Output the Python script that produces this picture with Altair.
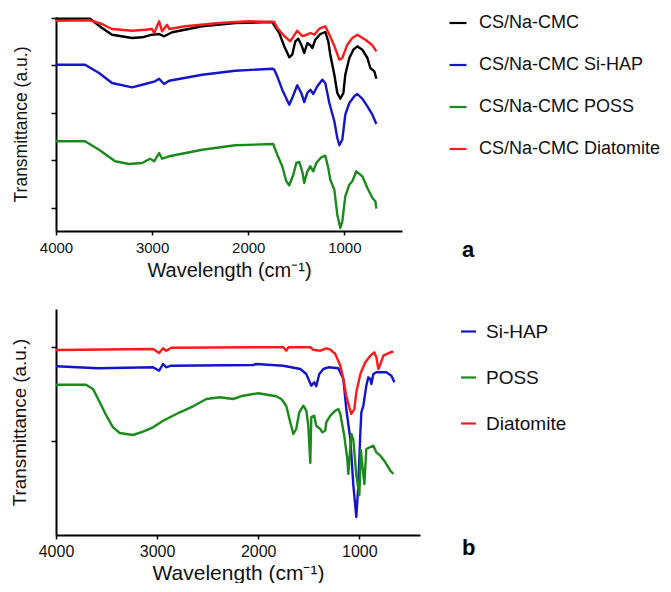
import altair as alt
import pandas as pd

# ---------------- Panel a (composite films) ----------------
a_labels = ["CS/Na-CMC", "\u2004CS/Na-CMC Si-HAP", "CS/Na-CMC POSS", "CS/Na-CMC Diatomite"]
a_colors = ["#000000", "#1414c8", "#1a8a1a", "#ff1a1a"]

a_cmc_wn = [4000, 3646, 3521, 3417, 3208, 3104, 3000, 2927, 2875, 2792, 2479, 2135, 1750, 1677, 1625,
            1573, 1542, 1510, 1479, 1448, 1417, 1385, 1354, 1333, 1302, 1250, 1198, 1167, 1146, 1104,
            1073, 1042, 1010, 990, 948, 906, 865, 813, 760, 729, 688, 667]
a_cmc_t = [212.3, 212.3, 203, 196.3, 193, 193.7, 196.3, 197, 194.7, 198.7, 204.7, 208, 209, 198, 184.7,
           173.7, 176.3, 189.7, 192.3, 186.3, 178, 188, 185.7, 183, 191.3, 197, 199, 189.7, 176.3, 156.3,
           138, 132.3, 138, 156.3, 173, 181.3, 184.7, 181.3, 173, 163, 159.7, 152.3]

a_sihap_wn = [4000, 3698, 3552, 3417, 3208, 3073, 2969, 2927, 2896, 2875, 2823, 2479, 2135, 1750, 1729,
              1698, 1646, 1573, 1542, 1490, 1448, 1417, 1385, 1354, 1323, 1281, 1229, 1198, 1156, 1104,
              1073, 1052, 1021, 990, 948, 896, 865, 813, 760, 708, 667]
a_sihap_t = [166.3, 166.3, 158, 148, 143.7, 147, 149.7, 152.3, 149, 147, 150.3, 156.3, 160.3, 162.3, 161.3,
             154.7, 141.3, 126.3, 133, 145.7, 138, 129, 138, 141.3, 137, 144.7, 151.3, 148, 128, 109.7,
             93, 85.7, 91.3, 116.3, 128, 134.7, 137, 132.3, 124.7, 116.3, 107]

a_poss_wn = [4000, 3698, 3552, 3385, 3240, 3104, 3021, 2979, 2927, 2896, 2823, 2479, 2135, 1740, 1698,
             1646, 1604, 1573, 1531, 1500, 1469, 1438, 1417, 1385, 1354, 1323, 1292, 1240, 1198, 1167,
             1146, 1104, 1073, 1042, 1021, 990, 948, 917, 875, 813, 760, 708, 677, 667]
a_poss_t = [89.7, 89.7, 81.3, 69.7, 67, 68, 72.3, 69.7, 78, 72.3, 74.7, 81.3, 85.7, 87, 76.3,
            64.7, 49.7, 45.7, 56.3, 68, 69, 59.7, 48, 59.7, 64.7, 59.7, 68, 73.7, 75.3, 63,
            51.3, 41.3, 16.3, 3, 9.7, 34.7, 46.3, 49.7, 59.7, 54.7, 43, 33, 29.7, 22.3]

a_diat_wn = [4000, 3646, 3521, 3417, 3208, 3073, 3000, 2979, 2927, 2896, 2844, 2823, 2656, 2302, 1990,
             1729, 1698, 1625, 1563, 1490, 1438, 1396, 1354, 1313, 1260, 1198, 1156, 1104, 1052, 1021,
             969, 917, 865, 781, 708, 667]
a_diat_t = [210.3, 210.7, 207, 202, 200.3, 201.3, 202, 198, 209.7, 199.7, 206.3, 202, 204.7, 208, 209.7,
            209, 203, 195, 189.7, 200.3, 195, 196, 198, 196.3, 202.3, 204.7, 196.3, 185, 171.3, 173,
            186.3, 193, 196.3, 191.3, 185.7, 179.7]

a_ticks = [23, 71, 118, 166, 213]

# ---------------- Panel b (fillers) ----------------
b_labels = ["Si-HAP", "POSS", "Diatomite"]
b_colors = ["#1414c8", "#1a8a1a", "#ff1a1a"]

b_sihap_wn = [4000, 3584, 3040, 2980, 2941, 2911, 2861, 2050, 2020, 1752, 1584, 1525, 1475, 1446, 1426,
              1396, 1356, 1307, 1208, 1158, 1129, 1089, 1059, 1030, 1010, 990, 980, 960, 931, 911,
              891, 881, 861, 832, 733, 683, 653]
b_sihap_t = [168.7, 166.7, 167.7, 164.3, 171, 167.7, 169.3, 170, 171, 169.3, 166, 161, 149.3, 152.7, 148.7,
             161, 166, 167.7, 166.7, 156, 126, 96, 49.3, 18, 49.3, 102.7, 122.7, 129.3, 149.3, 157.7,
             156, 151, 161, 162.7, 162.7, 159.3, 152.7]

b_poss_wn = [4000, 3703, 3634, 3567, 3502, 3436, 3369, 3238, 3139, 3040, 2941, 2775, 2644, 2512, 2379,
             2248, 2149, 2050, 2000, 1822, 1772, 1723, 1683, 1653, 1624, 1594, 1554, 1525, 1505, 1485,
             1475, 1446, 1426, 1386, 1366, 1337, 1327, 1287, 1238, 1208, 1188, 1149, 1119, 1109, 1079,
             1059, 1030, 1000, 985, 960, 950, 931, 891, 861, 832, 792, 743, 693, 663]
b_poss_t = [150.3, 150.3, 146, 132.7, 119.3, 107.7, 102, 100, 103.3, 107.7, 114.3, 122.7, 128.7, 136, 137.7,
            136, 139.3, 141, 141.7, 138.7, 136, 129.3, 112.7, 101, 106, 122.7, 129.3, 124.3, 110, 72,
            118, 119.3, 109.3, 106, 102.7, 104.3, 112.7, 119.3, 124.3, 126, 121, 99.3, 76, 61, 101,
            95, 60, 40, 85, 60, 51, 86, 88, 89.3, 82.7, 79.3, 72.7, 64.3, 61]

b_diat_wn = [4000, 3040, 2980, 2941, 2911, 2861, 2050, 1752, 1723, 1700, 1485, 1455, 1386, 1327, 1287,
             1238, 1188, 1158, 1129, 1099, 1079, 1049, 1030, 990, 941, 891, 852, 832, 812, 792,
             762, 693, 663]
b_diat_t = [185, 186, 182, 186.7, 184.3, 187.3, 187.7, 187.7, 184.3, 187.7, 187.7, 185.3, 184.3, 186.7, 185.3,
            181, 169.3, 156, 139.3, 127.7, 121, 126, 142.7, 161, 172.7, 179.3, 182.7, 177.7, 166, 171,
            179.3, 182.7, 183.3]

b_ticks = [94, 188]

x_ticks = [4000, 3000, 2000, 1000]
panel_tags = ["a", "b"]

FONT = "Liberation Sans"


def to_long(labels, series):
    rows = []
    for lab, (wn, t) in zip(labels, series):
        for i, (w, v) in enumerate(zip(wn, t)):
            rows.append({"series": lab, "wn": w, "t": v, "i": i})
    return pd.DataFrame(rows)


df_a = to_long(a_labels, [(a_cmc_wn, a_cmc_t), (a_sihap_wn, a_sihap_t),
                          (a_poss_wn, a_poss_t), (a_diat_wn, a_diat_t)])
df_b = to_long(b_labels, [(b_sihap_wn, b_sihap_t), (b_poss_wn, b_poss_t), (b_diat_wn, b_diat_t)])


def panel(df, labels, colors, ydomain, yticks, width, height, lab_fs, xt_fs, yt_fs,
          xlab_pad, xtitle_pad, ytitle_pad, leg, tag, tag_xy):
    x = alt.X("wn:Q",
              scale=alt.Scale(domain=[400, 4000], reverse=True, nice=False, zero=False),
              axis=alt.Axis(values=x_ticks, format="d", title="Wavelength (cm\u207b\u00b9)",
                            grid=False, tickSize=4, tickWidth=1.5, domainWidth=2,
                            domainColor="#000", tickColor="#000", labelFlush=False,
                            labelFontSize=lab_fs, labelFont=FONT, labelColor="#111",
                            labelPadding=xlab_pad,
                            titleFontSize=xt_fs, titleFont=FONT, titleFontWeight="normal",
                            titleColor="#111", titlePadding=xtitle_pad))
    y = alt.Y("t:Q",
              scale=alt.Scale(domain=ydomain, nice=False, zero=False),
              axis=alt.Axis(values=yticks, labels=False, title="Transmittance (a.u.)",
                            grid=False, tickSize=5, tickWidth=1.5, domainWidth=2,
                            domainColor="#000", tickColor="#000",
                            titleFontSize=yt_fs, titleFont=FONT, titleFontWeight="normal",
                            titleColor="#111", titlePadding=ytitle_pad))
    color = alt.Color("series:N",
                      scale=alt.Scale(domain=labels, range=colors),
                      legend=alt.Legend(title=None, orient="none",
                                        legendX=leg["x"], legendY=leg["y"],
                                        symbolType="stroke", symbolSize=leg["size"],
                                        symbolStrokeWidth=2.2,
                                        labelFontSize=leg["fs"], labelFont=FONT,
                                        labelColor="#111", labelLimit=400,
                                        labelOffset=leg["off"], rowPadding=leg["row"]))
    lines = alt.Chart(df).mark_line(strokeWidth=2.4, strokeJoin="round").encode(
        x=x, y=y, color=color, order=alt.Order("i:Q"))
    tag_chart = alt.Chart(pd.DataFrame({"tag": [tag]})).mark_text(
        font=FONT, fontSize=22, fontWeight="bold", align="left", baseline="alphabetic",
        color="#000").encode(text="tag:N", x=alt.value(tag_xy[0]), y=alt.value(tag_xy[1]))
    return alt.layer(lines, tag_chart).properties(width=width, height=height)


chart_a = panel(df_a, a_labels, a_colors, [0, 214], a_ticks, 346, 214,
                15, 20, 17.5, 5, 5, 19.5,
                {"x": 392, "y": -4, "size": 289, "fs": 18, "off": 11, "row": 23},
                panel_tags[0], (406, 240))
chart_b = panel(df_b, b_labels, b_colors, [0, 226], b_ticks, 364, 226,
                16, 21, 18.8, 4, 3, 21,
                {"x": 403, "y": 13, "size": 225, "fs": 19, "off": 8, "row": 26},
                panel_tags[1], (406, 246))

chart = alt.vconcat(chart_a, chart_b, spacing=29).resolve_scale(
    x="independent", y="independent", color="independent"
).properties(
    padding={"top": 5, "left": 2, "right": 0, "bottom": 0},
    background="white"
).configure_view(stroke=None)

chart.save("out.html", embed_options={"renderer": "svg", "actions": False})
